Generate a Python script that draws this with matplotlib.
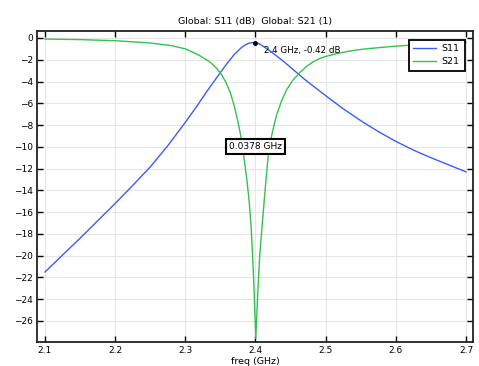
import numpy as np
import matplotlib
matplotlib.use("Agg")
import matplotlib.pyplot as plt

# S11 (dB)
freq_s11 = [2.10, 2.125, 2.15, 2.175, 2.20, 2.225, 2.25, 2.275, 2.30, 2.315,
            2.33, 2.345, 2.36, 2.37, 2.38, 2.385, 2.39, 2.395, 2.40, 2.405,
            2.41, 2.42, 2.43, 2.44, 2.45, 2.46, 2.47, 2.48, 2.49, 2.50,
            2.525, 2.55, 2.575, 2.60, 2.625, 2.65, 2.675, 2.70]
s11 = [-21.5, -19.95, -18.4, -16.8, -15.2, -13.55, -11.85, -9.9, -7.75, -6.4,
       -4.98, -3.62, -2.3, -1.5, -0.88, -0.65, -0.5, -0.43, -0.42, -0.52,
       -0.72, -1.15, -1.65, -2.15, -2.7, -3.25, -3.8, -4.3, -4.8, -5.3,
       -6.5, -7.6, -8.6, -9.5, -10.3, -11.0, -11.65, -12.3]

# S21 (dB)
freq_s21 = [2.10, 2.15, 2.20, 2.25, 2.28, 2.30, 2.32, 2.335, 2.345, 2.352,
            2.358, 2.364, 2.37, 2.375, 2.38, 2.384, 2.388, 2.391, 2.394, 2.397,
            2.4004, 2.403, 2.406, 2.409, 2.413, 2.417, 2.42, 2.425, 2.43, 2.437,
            2.444, 2.453, 2.463, 2.472, 2.482, 2.491, 2.50, 2.515, 2.53, 2.545,
            2.56, 2.60, 2.65, 2.70]
s21 = [-0.1, -0.15, -0.25, -0.46, -0.7, -1.0, -1.6, -2.2, -2.8, -3.4,
       -4.1, -5.0, -6.3, -7.7, -9.3, -11.2, -13.2, -15.0, -17.6, -21.5,
       -27.6, -23.8, -20.0, -17.6, -14.5, -11.6, -9.9, -8.4, -7.1, -5.8,
       -4.8, -3.9, -3.2, -2.65, -2.2, -1.9, -1.7, -1.45, -1.25, -1.1,
       -0.98, -0.75, -0.55, -0.4]

peak_f, peak_db = 2.4, -0.42
bw_label = "0.0378 GHz"
bw_pos = (2.4, -10.0)

xticks = [2.1, 2.2, 2.3, 2.4, 2.5, 2.6, 2.7]
yticks = list(range(0, -27, -2))

fig = plt.figure(figsize=(4.79, 3.66), dpi=100)
ax = fig.add_axes([0.0772, 0.0656, 0.9103, 0.8497])

ax.plot(freq_s11, s11, color="#3a5cff", lw=1.0, label="S11")
ax.plot(freq_s21, s21, color="#33c24f", lw=1.0, label="S21")

# peak marker + label
ax.plot([peak_f], [peak_db], "o", color="black", ms=2.5)
ax.text(peak_f + 0.012, peak_db - 0.35, "2.4 GHz, -0.42 dB", fontsize=6.3,
        va="top", ha="left")

# bandwidth box
ax.text(bw_pos[0], bw_pos[1], bw_label, fontsize=6.5, ha="center", va="center",
        bbox=dict(boxstyle="square,pad=0.35", fc="white", ec="black", lw=1.5))

ax.set_xlim(2.0886, 2.71)
ax.set_ylim(-27.93, 0.64)
ax.set_xticks(xticks)
ax.set_yticks(yticks)
ax.grid(True, color="#e6e6e6", lw=0.8)
ax.set_axisbelow(True)
ax.tick_params(direction="in", length=4, width=1, labelsize=6.5,
               top=True, right=True, pad=3)
for sp in ax.spines.values():
    sp.set_linewidth(1.3)
    sp.set_color("#222222")

ax.set_xlabel("freq (GHz)", fontsize=6.8, labelpad=1)
ax.set_title("Global: S11 (dB)  Global: S21 (1)", fontsize=6.8, pad=5)

leg = ax.legend(loc="upper right", fontsize=6.8, fancybox=False, framealpha=1,
                edgecolor="black", borderaxespad=0.9, handlelength=2.4,
                handletextpad=0.6, borderpad=0.5, labelspacing=0.4)
leg.get_frame().set_linewidth(1.3)

fig.savefig("out.png", dpi=100)
